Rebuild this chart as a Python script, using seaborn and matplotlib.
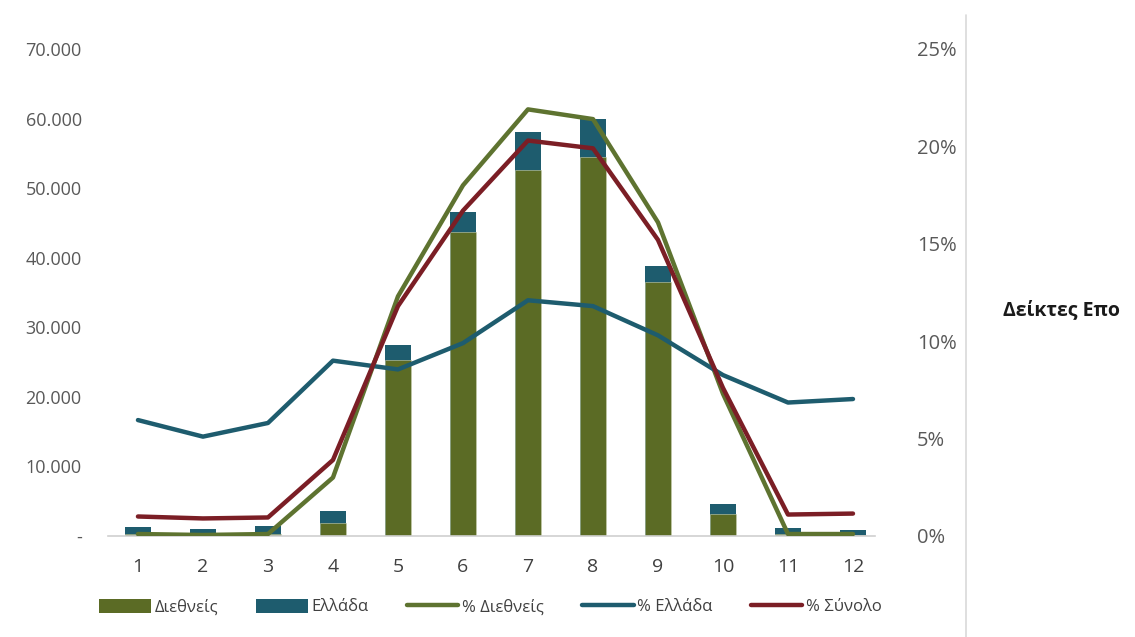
import numpy as np
import pandas as pd
import matplotlib
matplotlib.use("Agg")
import matplotlib.pyplot as plt
from matplotlib.lines import Line2D
from matplotlib.patches import Patch
import seaborn as sns

# ---------------- data ----------------
months = [1, 2, 3, 4, 5, 6, 7, 8, 9, 10, 11, 12]
diethneis = [300, 200, 300, 1900, 25300, 43700, 52600, 54500, 36500, 3100, 300, 200]
ellada = [1000, 800, 1100, 1700, 2150, 2900, 5400, 5500, 2300, 1450, 800, 650]
pct_diethneis = [0.001, 0.0005, 0.001, 0.030, 0.123, 0.180, 0.219, 0.214, 0.161, 0.073, 0.001, 0.001]
pct_ellada = [0.0595, 0.051, 0.058, 0.090, 0.0855, 0.099, 0.121, 0.118, 0.103, 0.0826, 0.0685, 0.0703]
pct_synolo = [0.010, 0.009, 0.0095, 0.039, 0.118, 0.167, 0.203, 0.199, 0.152, 0.076, 0.011, 0.0115]
left_ticks = [0, 10000, 20000, 30000, 40000, 50000, 60000, 70000]
left_labels = ["-", "10.000", "20.000", "30.000", "40.000", "50.000", "60.000", "70.000"]
right_ticks = [0, 0.05, 0.10, 0.15, 0.20, 0.25]
right_labels = ["0%", "5%", "10%", "15%", "20%", "25%"]
series_names = ["Διεθνείς", "Ελλάδα", "% Διεθνείς", "% Ελλάδα", "% Σύνολο"]
side_title = "Δείκτες Επο"

# ---------------- style ----------------
sns.set_style("white")
plt.rcParams["font.family"] = ["Open Sans", "DejaVu Sans"]

OLIVE = "#5b6b25"
TEAL = "#1e5c6e"
GREEN_LINE = "#5e7330"
RED = "#7b1e25"
TICK_GRAY = "#595959"

fig = plt.figure(figsize=(11.35, 6.37), dpi=100)
ax = fig.add_axes([0.0952, 0.1586, 0.6758, 0.7645])

df = pd.DataFrame({"month": months, "diethneis": diethneis, "ellada": ellada})
df["total"] = df["diethneis"] + df["ellada"]

sns.barplot(data=df, x="month", y="total", color=TEAL, saturation=1,
            width=0.41, ax=ax, errorbar=None, linewidth=0)
sns.barplot(data=df, x="month", y="diethneis", color=OLIVE, saturation=1,
            width=0.41, ax=ax, errorbar=None, edgecolor="#c9cfb0", linewidth=0.4)

ax2 = ax.twinx()
xpos = np.arange(len(months))
lw = 3.2
sns.lineplot(x=xpos, y=pct_diethneis, color=GREEN_LINE, lw=lw, ax=ax2,
             solid_capstyle="round", solid_joinstyle="round")
sns.lineplot(x=xpos, y=pct_ellada, color=TEAL, lw=lw, ax=ax2,
             solid_capstyle="round", solid_joinstyle="round")
sns.lineplot(x=xpos, y=pct_synolo, color=RED, lw=lw, ax=ax2,
             solid_capstyle="round", solid_joinstyle="round")

# axes limits / ticks
ax.set_xlim(-0.46, 11.34)
ax.set_ylim(0, 70000)
ax2.set_ylim(0, 0.25)

ax.set_yticks(left_ticks)
ax.set_yticklabels(left_labels)
ax2.set_yticks(right_ticks)
ax2.set_yticklabels(right_labels)
ax.set_xticks(xpos)
ax.set_xticklabels([str(m) for m in months])

ax.tick_params(axis="y", length=0, pad=19, labelsize=13, labelcolor=TICK_GRAY)
ax2.tick_params(axis="y", length=0, pad=30, labelsize=14.5, labelcolor=TICK_GRAY)
ax.tick_params(axis="x", length=0, pad=16, labelsize=14, labelcolor="#404040")
for lab in ax2.get_yticklabels():
    lab.set_horizontalalignment("left")

ax.set_xlabel("")
ax.set_ylabel("")
ax2.set_ylabel("")
for a in (ax, ax2):
    for s in ["top", "right", "left", "bottom"]:
        a.spines[s].set_visible(False)
ax.spines["bottom"].set_visible(True)
ax.spines["bottom"].set_color("#d0d0d0")
ax.spines["bottom"].set_linewidth(1.2)
ax.grid(False)
ax2.grid(False)

# legend
handles = [
    Patch(facecolor=OLIVE, edgecolor="none"),
    Patch(facecolor=TEAL, edgecolor="none"),
    Line2D([], [], color=GREEN_LINE, lw=lw, solid_capstyle="round"),
    Line2D([], [], color=TEAL, lw=lw, solid_capstyle="round"),
    Line2D([], [], color=RED, lw=lw, solid_capstyle="round"),
]
leg = fig.legend(handles, series_names, loc="center", bbox_to_anchor=(0.432, 0.047),
                 ncol=5, frameon=False, fontsize=12, handlelength=3.1,
                 handleheight=0.9, handletextpad=0.2, columnspacing=2.3,
                 labelcolor="#404040")

# separator line and side title
fig.add_artist(Line2D([0.851, 0.851], [0.0, 0.977], transform=fig.transFigure,
                      color="#d9d9d9", lw=1.2))
fig.text(0.884, 0.513, side_title, fontsize=14, fontweight="bold",
         color="#1a1a1a", va="center", ha="left")

fig.savefig("out.png", dpi=100)
